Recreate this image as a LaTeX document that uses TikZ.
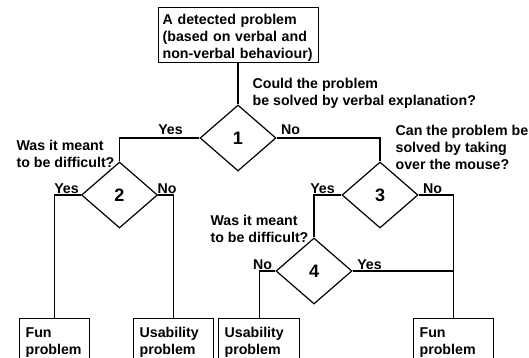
\documentclass[tikz,border=0pt]{standalone}
\usepackage{fontspec}
\setmainfont{Liberation Sans}
\usetikzlibrary{shapes.geometric}
\begin{document}
\begin{tikzpicture}[x=1pt,y=-1pt, line width=1.2pt,
  every node/.style={font=\fontsize{14.2}{17}\selectfont\bfseries},
  box/.style={draw, anchor=north west, align=left, inner xsep=6pt, inner ysep=0pt},
  dia/.style={draw, diamond, minimum width=76pt, minimum height=66pt, inner sep=0pt, font=\fontsize{18}{20}\selectfont\bfseries},
  lbl/.style={anchor=base, inner sep=0pt},
  qst/.style={anchor=north west, align=left, inner sep=0pt}]
\clip (0,0) rectangle (529,358);
\fill[white] (0,0) rectangle (529,358);
% top box
\node[box, inner xsep=4pt, text width=152pt] (top) at (158,7)
  {\rule{0pt}{17pt}A detected problem\\(based on verbal and\\non-verbal behaviour)\rule[-4pt]{0pt}{4pt}};
% diamonds
\node[dia] (d1) at (238,138) {1};
\node[dia] (d2) at (119.5,195) {2};
\node[dia] (d3) at (380,195) {3};
\node[dia] (d4) at (314,271) {4};
% bottom boxes
\node[box, text width=58pt] (b1) at (19,318) {\rule{0pt}{19pt}Fun\\problem\rule[-16pt]{0pt}{16pt}};
\node[box, text width=68pt] (b2) at (133,318) {\rule{0pt}{19pt}Usability\\problem\rule[-16pt]{0pt}{16pt}};
\node[box, text width=69pt] (b3) at (218,318) {\rule{0pt}{19pt}Usability\\problem\rule[-16pt]{0pt}{16pt}};
\node[box, text width=68pt] (b4) at (413,318) {\rule{0pt}{19pt}Fun\\problem\rule[-16pt]{0pt}{16pt}};
% connectors
\draw (d1.north) -- (d1.north |- top.south);
\draw (d1.west) -| (d2.north);
\draw (d1.east) -| (d3.north);
\draw (d2.west) -| (b1.north);
\draw (d2.east) -| (b2.north);
\draw (d3.west) -| (d4.north);
\draw (d3.east) -| (b4.north);
\draw (d4.west) -| (b3.north);
\draw (d4.east) -- (d4.east -| b4.north);
% branch labels
\node[lbl] (y1) at (170.5,135) {Yes};
\node[lbl] (n1) at (290.5,135) {No};
\node[lbl] (y2) at (66.5,193) {Yes};
\node[lbl] (n2) at (167,193) {No};
\node[lbl] (y3) at (322.5,193) {Yes};
\node[lbl] (n3) at (432.5,193) {No};
\node[lbl] (y4) at (369.5,269) {Yes};
\node[lbl] (n4) at (262.5,269) {No};
% questions
\node[qst] (q1) at (252,77.8) {Could the problem\\be solved by verbal explanation?};
\node[qst] (q2) at (16,139.8) {Was it meant\\to be difficult?};
\node[qst] (q3) at (395,124.8) {Can the problem be\\solved by taking\\over the mouse?};
\node[qst] (q4) at (210,214.8) {Was it meant\\to be difficult?};
\end{tikzpicture}
\end{document}
